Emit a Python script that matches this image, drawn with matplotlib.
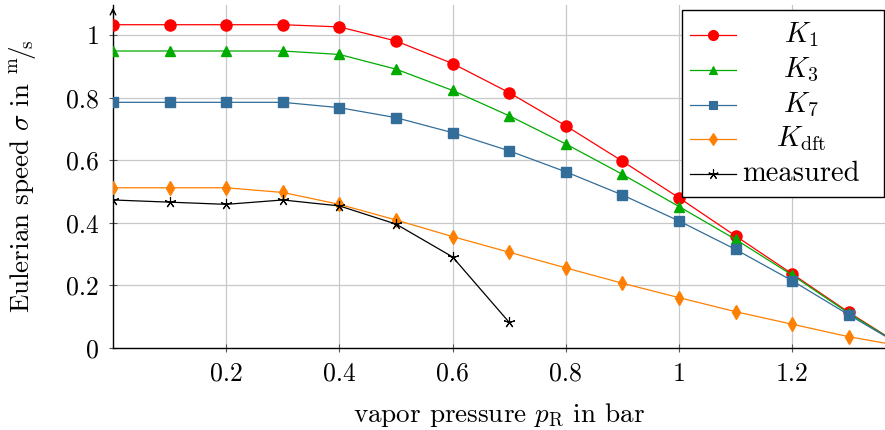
import matplotlib
matplotlib.use("Agg")
import matplotlib.pyplot as plt
from matplotlib.lines import Line2D
from matplotlib.patches import Rectangle

plt.rcParams['font.family'] = ['cmr10', 'DejaVu Serif']
plt.rcParams['mathtext.fontset'] = 'cm'
plt.rcParams['axes.unicode_minus'] = False
plt.rcParams['axes.formatter.use_mathtext'] = True

# vapor pressure samples (bar)
pressure = [0.0, 0.1, 0.2, 0.3, 0.4, 0.5, 0.6, 0.7, 0.8, 0.9, 1.0, 1.1, 1.2, 1.3, 1.4]
k1 = [1.033, 1.033, 1.033, 1.033, 1.026, 0.981, 0.909, 0.816, 0.710, 0.597, 0.480, 0.358, 0.237, 0.114, 0.0]
k3 = [0.949, 0.949, 0.949, 0.949, 0.938, 0.891, 0.823, 0.742, 0.652, 0.555, 0.452, 0.347, 0.233, 0.111, 0.0]
k7 = [0.785, 0.785, 0.785, 0.785, 0.768, 0.736, 0.688, 0.630, 0.563, 0.489, 0.406, 0.315, 0.215, 0.106, 0.0]
kdft = [0.512, 0.512, 0.512, 0.497, 0.459, 0.409, 0.356, 0.306, 0.256, 0.207, 0.161, 0.116, 0.076, 0.036, 0.004]
measured_p = [0.0, 0.1, 0.2, 0.3, 0.4, 0.5, 0.6, 0.7]
measured = [0.473, 0.466, 0.459, 0.473, 0.454, 0.396, 0.291, 0.082]

xticks = [0.2, 0.4, 0.6, 0.8, 1.0, 1.2]
xticklabels = ['0.2', '0.4', '0.6', '0.8', '1', '1.2']
yticks = [0.0, 0.2, 0.4, 0.6, 0.8, 1.0]
yticklabels = ['0', '0.2', '0.4', '0.6', '0.8', '1']

W, H = 885, 430
fig = plt.figure(figsize=(W / 100, H / 100), dpi=100)
ax_left, ax_right, ax_bottom, ax_top = 113, 885, 348, 5
ax = fig.add_axes([ax_left / W, (H - ax_bottom) / H,
                   (ax_right - ax_left) / W, (ax_bottom - ax_top) / H])

series = [
    (k1, pressure, '#ff0000', 'o', 8.0, r'$K_1$'),
    (k3, pressure, '#00ab00', '^', 7.0, r'$K_3$'),
    (k7, pressure, '#336d99', 's', 7.0, r'$K_7$'),
    (kdft, pressure, '#ff8000', 'd', 7.0, r'$K_{\mathrm{dft}}$'),
]
for y, x, c, m, ms, lab in series:
    ax.plot(x, y, color=c, lw=0.9, marker=m, ms=ms, mec=c, mfc=c, zorder=3)
ax.plot(measured_p, measured, color='black', lw=0.9, marker=(5, 2, 0),
        ms=8, mew=0.8, zorder=4)

ax.set_xlim(0, 1.364)
ax.set_ylim(0, 1.096)
ax.set_xticks(xticks)
ax.set_xticklabels(xticklabels)
ax.set_yticks(yticks)
ax.set_yticklabels(yticklabels)
ax.grid(True, color='#c8c8c8', lw=0.9)
ax.set_axisbelow(True)
ax.tick_params(direction='inout', length=6, width=0.8, color='#555555',
               labelsize=18.5, pad=7)
for s in ('top', 'right'):
    ax.spines[s].set_visible(False)
for s in ('left', 'bottom'):
    ax.spines[s].set_linewidth(1.0)

# arrow tip on the y axis
ax.annotate('', xy=(0, 1.0), xytext=(0, 0.97), xycoords='axes fraction',
            arrowprops=dict(arrowstyle='->', lw=1.0, color='black',
                            mutation_scale=10), annotation_clip=False)

ax.set_xlabel(r'vapor pressure $p_{\mathrm{R}}$ in bar', fontsize=19.5, labelpad=11)
ax.set_ylabel(r'Eulerian speed $\sigma$ in $^{\mathrm{m}}\!/\!_{\mathrm{s}}$',
              fontsize=19.5, labelpad=20)

# legend box drawn in figure pixels
def fx(px):
    return px / W

def fy(py):
    return 1 - py / H

box = Rectangle((fx(682), fy(197)), fx(884) - fx(682), fy(10) - fy(197),
                transform=fig.transFigure, facecolor='white', edgecolor='black',
                lw=1.0, zorder=10)
fig.add_artist(box)
rows = [35, 70, 105, 139, 174]
entries = [(c, m, ms, lab) for _, _, c, m, ms, lab in series]
entries.append(('black', (5, 2, 0), 8, 'measured'))
for py, (c, m, ms, lab) in zip(rows, entries):
    fig.add_artist(Line2D([fx(690), fx(736)], [fy(py), fy(py)],
                          transform=fig.transFigure, color=c, lw=0.9, zorder=11))
    fig.add_artist(Line2D([fx(713)], [fy(py)], transform=fig.transFigure,
                          color=c, marker=m, ms=ms * 0.9, mec=c, mfc=c,
                          mew=0.8, zorder=12))
    fig.text(fx(801), fy(py), lab, ha='center', va='center', fontsize=20.5,
             zorder=12)

fig.savefig('out.png', dpi=100)
